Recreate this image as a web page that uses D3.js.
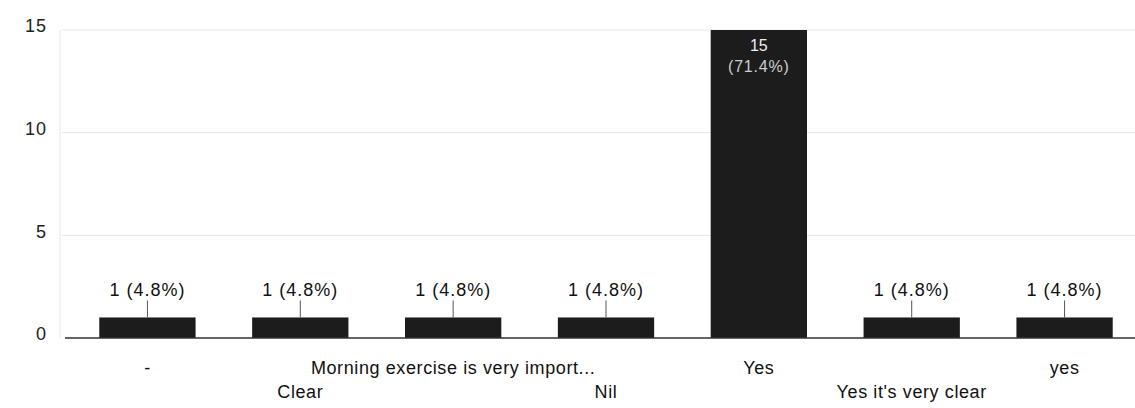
<!DOCTYPE html>
<html>
<head>
<meta charset="utf-8">
<script src="https://cdn.jsdelivr.net/npm/d3@7"></script>
<style>
  html, body { margin: 0; padding: 0; background: #fff; }
  svg { display: block; font-family: "Liberation Sans", Arial, sans-serif; }
</style>
</head>
<body>
<svg id="chart" width="1135" height="408"></svg>
<script>
const categories = ["-", "Clear", "Morning exercise is very import...", "Nil", "Yes", "Yes it's very clear", "yes"];
const counts = [1, 1, 1, 1, 15, 1, 1];
const percents = ["4.8%", "4.8%", "4.8%", "4.8%", "71.4%", "4.8%", "4.8%"];
const yTicks = [0, 5, 10, 15];

const svg = d3.select("#chart");
const W = 1135, H = 408;

const x = d3.scaleBand().domain(categories).range([71, 1141]).paddingInner(0.37).paddingOuter(0.185);
const y = d3.scaleLinear().domain([0, 15]).range([338, 30]);

// gridlines
svg.append("g")
  .selectAll("line")
  .data(yTicks.filter(d => d > 0))
  .join("line")
  .attr("x1", 62).attr("x2", W)
  .attr("y1", d => y(d)).attr("y2", d => y(d))
  .attr("stroke", "#e6e6e6").attr("stroke-width", 1);

// left faint axis line
svg.append("line")
  .attr("x1", 60).attr("x2", 60)
  .attr("y1", y(15)).attr("y2", y(0))
  .attr("stroke", "#e8e8e8");

// y axis labels
const yAxis = d3.axisLeft(y).tickValues(yTicks).tickSize(0).tickPadding(0);
const yg = svg.append("g").attr("transform", "translate(47,-4)").call(yAxis);
yg.select(".domain").remove();
yg.selectAll("text")
  .attr("font-size", 18).attr("fill", "#222").attr("letter-spacing", 1)
  .attr("font-family", "Liberation Sans, Arial, sans-serif");

// bars
svg.append("g")
  .selectAll("rect")
  .data(categories)
  .join("rect")
  .attr("x", d => x(d))
  .attr("y", (d, i) => y(counts[i]))
  .attr("width", x.bandwidth())
  .attr("height", (d, i) => y(0) - y(counts[i]))
  .attr("fill", "#1c1c1c");

// baseline
svg.append("line")
  .attr("x1", 65).attr("x2", W)
  .attr("y1", y(0)).attr("y2", y(0))
  .attr("stroke", "#333").attr("stroke-width", 1.5);

// value labels
categories.forEach((c, i) => {
  const cx = x(c) + x.bandwidth() / 2;
  if (counts[i] >= 10) {
    svg.append("text").attr("x", cx).attr("y", y(counts[i]) + 21)
      .attr("text-anchor", "middle").attr("font-size", 16).attr("fill", "#eee")
      .text(counts[i]);
    svg.append("text").attr("x", cx).attr("y", y(counts[i]) + 42)
      .attr("text-anchor", "middle").attr("font-size", 16).attr("fill", "#ccc")
      .attr("letter-spacing", 0.8)
      .text("(" + percents[i] + ")");
  } else {
    const top = y(counts[i]);
    svg.append("line")
      .attr("x1", cx).attr("x2", cx)
      .attr("y1", top - 17).attr("y2", top)
      .attr("stroke", "#555").attr("stroke-width", 1);
    svg.append("text").attr("x", cx).attr("y", top - 21)
      .attr("text-anchor", "middle").attr("font-size", 18).attr("fill", "#111")
      .attr("letter-spacing", 1)
      .text(counts[i] + " (" + percents[i] + ")");
  }
});

// x axis labels (staggered)
const xAxis = d3.axisBottom(x).tickSize(0).tickPadding(0);
const xg = svg.append("g").attr("transform", "translate(0," + y(0) + ")").call(xAxis);
xg.select(".domain").remove();
xg.selectAll("text")
  .attr("font-size", 18).attr("fill", "#111").attr("letter-spacing", 0.6)
  .attr("font-family", "Liberation Sans, Arial, sans-serif")
  .attr("dy", null)
  .attr("y", (d, i) => i % 2 === 0 ? 36 : 60);
</script>
</body>
</html>
